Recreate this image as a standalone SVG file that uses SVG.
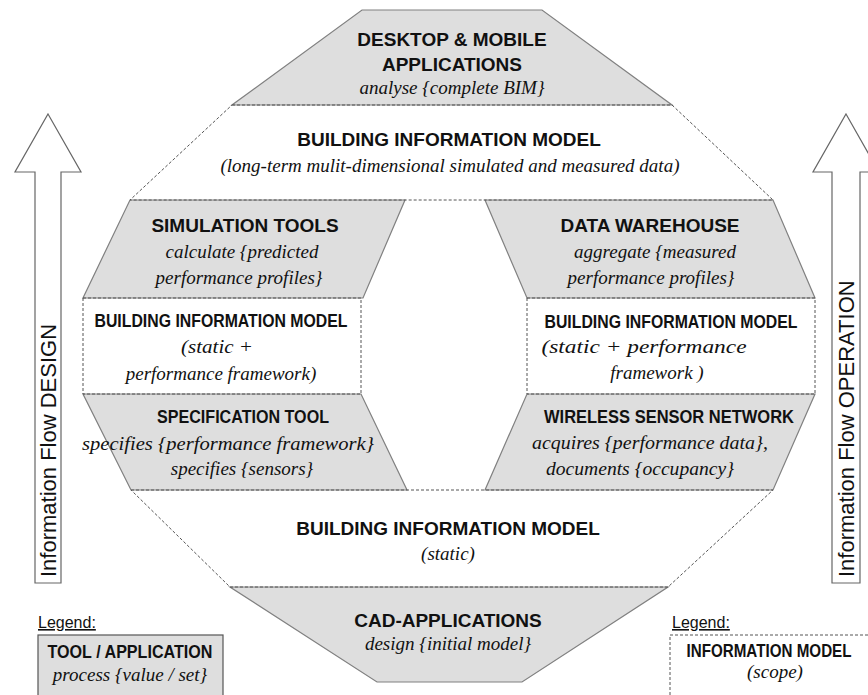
<svg xmlns="http://www.w3.org/2000/svg" width="868" height="695" viewBox="0 0 868 695">
<style>
.tool{fill:#dedede;stroke:#808080;stroke-width:1.2}
.model{fill:none;stroke:#555;stroke-width:1;stroke-dasharray:3 2}
.arrow{fill:#fff;stroke:#666;stroke-width:1.2}
.h{font-family:"Liberation Sans",Arial,sans-serif;font-weight:bold;font-size:19px;fill:#111;text-anchor:middle}
.s{font-family:"Liberation Serif","Times New Roman",serif;font-style:italic;font-size:19px;fill:#111;text-anchor:middle}
.a{font-family:"Liberation Sans",Arial,sans-serif;font-size:22px;fill:#111;text-anchor:start}
.lg{font-family:"Liberation Sans",Arial,sans-serif;font-size:16px;fill:#111;text-decoration:underline}
</style>
<rect width="868" height="695" fill="#fff"/>

<g id="arrow-design">
<polygon class="arrow" points="48,114 81,172 61,172 61,583 35,583 35,172 15,172"/>
<text class="a" transform="translate(56,577) rotate(-90)">Information Flow DESIGN</text>
</g>
<g id="arrow-operation">
<polygon class="arrow" points="846,114 879,172 860,172 860,583 832,583 832,172 813,172"/>
<text class="a" transform="translate(854,577) rotate(-90)">Information Flow OPERATION</text>
</g>

<g id="desktop">
<polygon class="tool" points="362,10 542,10 672,105 232,105"/>
<text class="h" x="452" y="46">DESKTOP &amp; MOBILE</text>
<text class="h" x="452" y="71">APPLICATIONS</text>
<text class="s" x="452" y="94">analyse {complete BIM}</text>
</g>
<g id="simulation">
<polygon class="tool" points="130,200 405,200 363,298 83,298"/>
<text class="h" x="245" y="232">SIMULATION TOOLS</text>
<text class="s" x="242" y="258">calculate {predicted</text>
<text class="s" x="239" y="284">performance profiles}</text>
</g>
<g id="specification">
<polygon class="tool" points="83,394 361,394 407,490 131,490"/>
<text class="h" x="243" y="423" textLength="172" lengthAdjust="spacingAndGlyphs">SPECIFICATION TOOL</text>
<text class="s" x="228" y="450" textLength="292" lengthAdjust="spacingAndGlyphs">specifies {performance framework}</text>
<text class="s" x="242" y="475">specifies {sensors}</text>
</g>
<g id="warehouse">
<polygon class="tool" points="485,200 773,200 815,298 527,298"/>
<text class="h" x="650" y="232">DATA WAREHOUSE</text>
<text class="s" x="655" y="258">aggregate {measured</text>
<text class="s" x="651" y="284">performance profiles}</text>
</g>
<g id="wsn">
<polygon class="tool" points="527,394 815,394 773,490 485,490"/>
<text class="h" x="669" y="423" textLength="250" lengthAdjust="spacingAndGlyphs">WIRELESS SENSOR NETWORK</text>
<text class="s" x="650" y="449" textLength="236" lengthAdjust="spacingAndGlyphs">acquires {performance data},</text>
<text class="s" x="640" y="475" textLength="188" lengthAdjust="spacingAndGlyphs">documents {occupancy}</text>
</g>
<g id="cad">
<polygon class="tool" points="230,587 668,587 522,682 377,682"/>
<text class="h" x="448" y="627">CAD-APPLICATIONS</text>
<text class="s" x="448" y="650">design {initial model}</text>
</g>

<g id="bim-top">
<polygon class="model" points="232,105 672,105 773,200 130,200"/>
<text class="h" x="449" y="146">BUILDING INFORMATION MODEL</text>
<text class="s" x="450" y="172">(long-term mulit-dimensional simulated and measured data)</text>
</g>
<g id="bim-left">
<rect class="model" x="83" y="298" width="278" height="96"/>
<text class="h" x="221" y="327" textLength="253" lengthAdjust="spacingAndGlyphs">BUILDING INFORMATION MODEL</text>
<text class="s" x="217" y="353" textLength="72" lengthAdjust="spacingAndGlyphs">(static +</text>
<text class="s" x="221" y="380">performance framework)</text>
</g>
<g id="bim-right">
<rect class="model" x="527" y="298" width="288" height="96"/>
<text class="h" x="671" y="328" textLength="253" lengthAdjust="spacingAndGlyphs">BUILDING INFORMATION MODEL</text>
<text class="s" x="644" y="353" textLength="205" lengthAdjust="spacingAndGlyphs">(static + performance</text>
<text class="s" x="657" y="379">framework )</text>
</g>
<g id="bim-bottom">
<polygon class="model" points="131,490 773,490 668,587 230,587"/>
<text class="h" x="448" y="535">BUILDING INFORMATION MODEL</text>
<text class="s" x="448" y="560">(static)</text>
</g>

<g id="legend-tool">
<text class="lg" x="38" y="628">Legend:</text>
<rect x="38" y="635" width="185" height="70" fill="#dedede" stroke="#555" stroke-width="1.2"/>
<text class="h" x="130" y="658" textLength="165" lengthAdjust="spacingAndGlyphs">TOOL / APPLICATION</text>
<text class="s" x="130" y="681">process {value / set}</text>
</g>
<g id="legend-model">
<text class="lg" x="672" y="628">Legend:</text>
<rect class="model" x="670" y="635" width="210" height="70"/>
<text class="h" x="769" y="657" textLength="165" lengthAdjust="spacingAndGlyphs">INFORMATION MODEL</text>
<text class="s" x="775" y="678">(scope)</text>
</g>
</svg>
